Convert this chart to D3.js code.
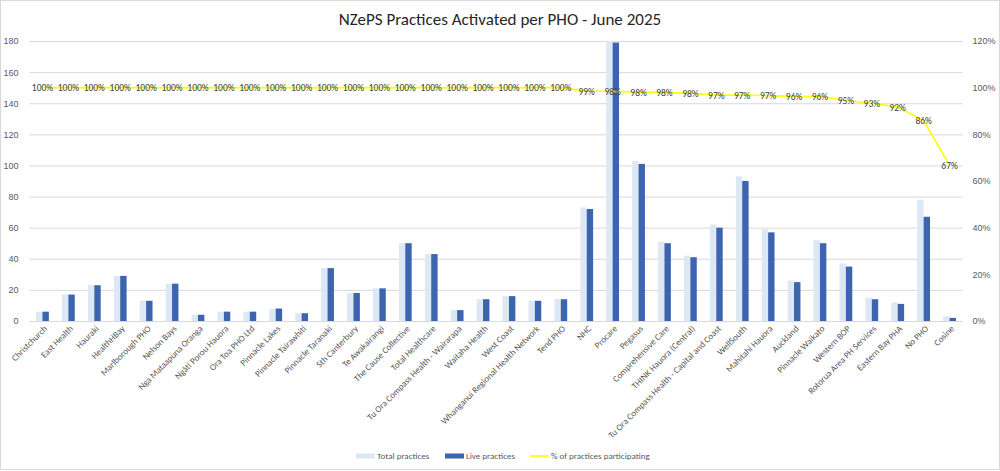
<!DOCTYPE html>
<html>
<head>
<meta charset="utf-8">
<script src="https://cdn.jsdelivr.net/npm/d3@7"></script>
<style>
  html, body { margin: 0; padding: 0; background: #fff; }
  svg { display: block; font-family: Calibri, Carlito, "Liberation Sans", Arial, sans-serif; }
</style>
</head>
<body>
<svg id="chart" width="1000" height="471"></svg>
<script>
// PHO names (x axis)
const categories = [
  'Christchurch', 'East Health', 'Hauraki', 'HealthHBay', 'Marlborough PHO', 'Nelson Bays',
  'Nga Mataapuna Oranga', 'Ngāti Porou Hauora', 'Ora Toa PHO Ltd', 'Pinnacle Lakes',
  'Pinnacle Tairawhiti', 'Pinnacle Taranaki', 'Sth Canterbury', 'Te Awakairangi',
  'The Cause Collective', 'Total Healthcare', 'Tu Ora Compass Health - Wairarapa',
  'Waitaha Health', 'West Coast', 'Whanganui Regional Health Network', 'Tend PHO', 'NHC',
  'Procare', 'Pegasus', 'Comprehensive Care', 'THINK Hauora (Central)',
  'Tu Ora Compass Health - Capital and Coast', 'WellSouth', 'Mahitahi Hauora', 'Auckland',
  'Pinnacle Waikato', 'Western BOP', 'Rotorua Area PH Services', 'Eastern Bay PHA',
  'No PHO', 'Cosine'
];
const totalPractices = [6, 17, 23, 29, 13, 24, 4, 6, 6, 8, 5, 34, 18, 21, 50, 43, 7, 14, 16, 13, 14, 73,
  182, 103, 51, 42, 62, 93, 59, 26, 52, 37, 15, 12, 78, 3];
const livePractices = [6, 17, 23, 29, 13, 24, 4, 6, 6, 8, 5, 34, 18, 21, 50, 43, 7, 14, 16, 13, 14, 72,
  179, 101, 50, 41, 60, 90, 57, 25, 50, 35, 14, 11, 67, 2];
const pctParticipating = [1, 1, 1, 1, 1, 1, 1, 1, 1, 1, 1, 1, 1, 1, 1, 1, 1, 1, 1, 1, 1, 0.986,
  0.984, 0.981, 0.98, 0.976, 0.968, 0.968, 0.966, 0.962, 0.962, 0.946, 0.933, 0.917, 0.859, 0.667];
const leftTicks = [0, 20, 40, 60, 80, 100, 120, 140, 160, 180];
const rightTicks = [0, 0.2, 0.4, 0.6, 0.8, 1.0, 1.2];

const data = categories.map((c, i) => ({
  name: c, total: totalPractices[i], live: livePractices[i], pct: pctParticipating[i]
}));

const svg = d3.select('#chart');
const W = 1000, H = 471;
const plot = { left: 29.5, right: 962.5, top: 41, bottom: 321 };

// 외곽 테두리
svg.append('rect')
  .attr('x', 0.5).attr('y', 0.5).attr('width', W - 1).attr('height', H - 2)
  .attr('fill', '#fff').attr('stroke', '#d9d9d9');

// 제목
svg.append('text')
  .attr('x', 500).attr('y', 25)
  .attr('text-anchor', 'middle')
  .attr('font-size', 17)
  .attr('fill', '#262626')
  .text('NZePS Practices Activated per PHO - June 2025');

const x = d3.scaleBand().domain(categories).range([plot.left, plot.right]);
const y = d3.scaleLinear().domain([0, 180]).range([plot.bottom, plot.top]);
const y2 = d3.scaleLinear().domain([0, 1.2]).range([plot.bottom, plot.top]);
const barW = 6.4;

// 그리드
svg.append('g')
  .attr('transform', `translate(${plot.left},0)`)
  .call(d3.axisLeft(y).tickValues(leftTicks).tickSize(-(plot.right - plot.left)).tickFormat(''))
  .call((g) => g.select('.domain').remove())
  .call((g) => g.selectAll('line').attr('stroke', '#d9d9d9'));

// 왼쪽 축 라벨
svg.append('g')
  .attr('transform', `translate(${plot.left - 8},0)`)
  .call(d3.axisLeft(y).tickValues(leftTicks).tickSize(0))
  .call((g) => g.select('.domain').remove())
  .call((g) => g.selectAll('text').attr('fill', '#595959').attr('font-size', 9).attr('font-family', null));

// 오른쪽 축 라벨
svg.append('g')
  .attr('transform', `translate(${plot.right + 7},0)`)
  .call(d3.axisRight(y2).tickValues(rightTicks).tickSize(0).tickFormat(d3.format('.0%')))
  .call((g) => g.select('.domain').remove())
  .call((g) => g.selectAll('text').attr('fill', '#595959').attr('font-size', 9).attr('font-family', null));

svg.append('clipPath').attr('id', 'plotClip')
  .append('rect')
  .attr('x', plot.left).attr('y', plot.top)
  .attr('width', plot.right - plot.left).attr('height', plot.bottom - plot.top);

const bars = svg.append('g').attr('clip-path', 'url(#plotClip)');

bars.selectAll('.total')
  .data(data)
  .join('rect')
  .attr('class', 'total')
  .attr('x', (d) => x(d.name) + x.bandwidth() / 2 - barW)
  .attr('y', (d) => y(d.total))
  .attr('width', barW)
  .attr('height', (d) => y(0) - y(d.total))
  .attr('fill', '#dde8f5');

bars.selectAll('.live')
  .data(data)
  .join('rect')
  .attr('class', 'live')
  .attr('x', (d) => x(d.name) + x.bandwidth() / 2)
  .attr('y', (d) => y(d.live))
  .attr('width', barW)
  .attr('height', (d) => y(0) - y(d.live))
  .attr('fill', '#3d64ae');

// 참여율 라인
const line = d3.line()
  .x((d) => x(d.name) + x.bandwidth() / 2)
  .y((d) => y2(d.pct));

svg.append('path')
  .datum(data)
  .attr('d', line)
  .attr('fill', 'none')
  .attr('stroke', '#ffff00')
  .attr('stroke-width', 1.6);

svg.append('g')
  .selectAll('text')
  .data(data)
  .join('text')
  .attr('x', (d) => x(d.name) + x.bandwidth() / 2)
  .attr('y', (d) => y2(d.pct))
  .attr('dy', '0.38em')
  .attr('text-anchor', 'middle')
  .attr('font-size', 9.5)
  .attr('fill', '#404040')
  .text((d) => d3.format('.0%')(d.pct));

// x축 라벨 (45도 회전)
svg.append('g')
  .selectAll('text')
  .data(data)
  .join('text')
  .attr('transform', (d) => `translate(${x(d.name) + x.bandwidth() / 2 + 3},${plot.bottom + 6}) rotate(-45)`)
  .attr('text-anchor', 'end')
  .attr('dy', '0.35em')
  .attr('font-size', 9)
  .attr('fill', '#595959')
  .text((d) => d.name);

// 범례
const legendItems = [
  { label: 'Total practices', type: 'rect', color: '#dde8f5', x: 356 },
  { label: 'Live practices', type: 'rect', color: '#3d64ae', x: 445 },
  { label: '% of practices participating', type: 'line', color: '#ffff00', x: 530 }
];
const legend = svg.append('g').attr('transform', 'translate(0,456)');
legendItems.forEach((item) => {
  if (item.type === 'rect') {
    legend.append('rect')
      .attr('x', item.x).attr('y', -2.5).attr('width', 19).attr('height', 5)
      .attr('fill', item.color);
  } else {
    legend.append('line')
      .attr('x1', item.x).attr('x2', item.x + 19).attr('y1', 0).attr('y2', 0)
      .attr('stroke', item.color).attr('stroke-width', 1.6);
  }
  legend.append('text')
    .attr('x', item.x + 21).attr('y', 0).attr('dy', '0.35em')
    .attr('font-size', 9).attr('fill', '#595959')
    .text(item.label);
});
</script>
</body>
</html>
